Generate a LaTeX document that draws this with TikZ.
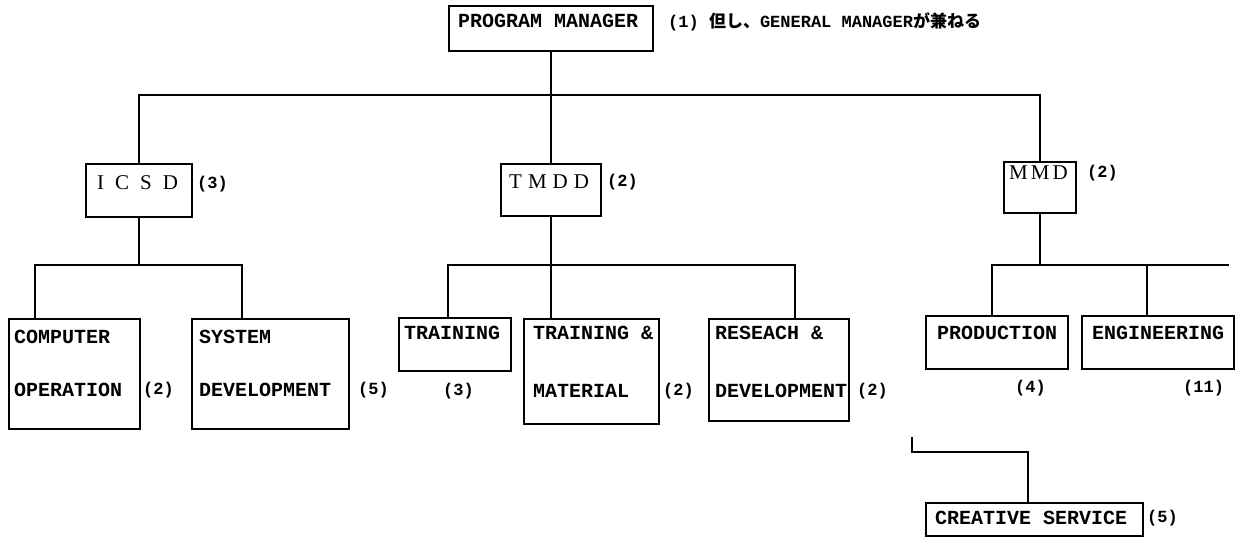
\documentclass[tikz,border=0pt]{standalone}
\usepackage{fontspec}
\newfontfamily\boxfont{Liberation Mono}
\newfontfamily\spacedfont{Liberation Serif}
\newfontfamily\jpfont{Noto Sans CJK JP}
\begin{document}
\begin{tikzpicture}[x=1pt,y=-1pt,
  box/.style={draw, line width=1.8pt, anchor=north west, inner sep=0pt},
  link/.style={line width=1.8pt},
  txt/.style={anchor=west, inner sep=0pt, font=\boxfont\bfseries\fontsize{20}{24}\selectfont},
  cnt/.style={anchor=west, inner sep=0pt, font=\boxfont\bfseries\fontsize{17}{20}\selectfont},
  spaced/.style={anchor=west, inner sep=0pt, font=\spacedfont\fontsize{21}{24}\selectfont},
  note/.style={anchor=west, inner sep=0pt, font=\boxfont\bfseries\fontsize{17}{20}\selectfont}]
\useasboundingbox (0,0) rectangle (1245,537);

% ---- boxes ----
\node[box, minimum width=204pt, minimum height=45pt] (pm) at (448,5) {};
\node[box, minimum width=106pt, minimum height=53pt] (icsd) at (85,163) {};
\node[box, minimum width=100pt, minimum height=52pt] (tmdd) at (500,163) {};
\node[box, minimum width=72pt,  minimum height=51pt] (mmd) at (1003,161) {};
\node[box, minimum width=131pt, minimum height=110pt] (comp) at (8,318) {};
\node[box, minimum width=157pt, minimum height=110pt] (sys) at (191,318) {};
\node[box, minimum width=112pt, minimum height=53pt] (trn) at (398,317) {};
\node[box, minimum width=135pt, minimum height=105pt] (tm) at (523,318) {};
\node[box, minimum width=140pt, minimum height=102pt] (rd) at (708,318) {};
\node[box, minimum width=142pt, minimum height=53pt] (prod) at (925,315) {};
\node[box, minimum width=152pt, minimum height=53pt] (eng) at (1081,315) {};
\node[box, minimum width=217pt, minimum height=33pt] (cs) at (925,502) {};

% ---- texts ----
\node[txt] (pmT) at (458,21) {PROGRAM MANAGER};
\node[note] (pmN) at (668,22) {(1) {\jpfont\fontsize{17}{20}\selectfont 但し、}GENERAL MANAGER{\jpfont\fontsize{17}{20}\selectfont が兼ねる}};

\node[spaced] (icsdT) at (97,183) {I\hspace{11pt}C\hspace{11pt}S\hspace{11pt}D};
\node[cnt] (icsdC) at (197,184) {(3)};
\node[spaced] (tmddT) at (509,182) {T\hspace{6pt}M\hspace{6pt}D\hspace{6pt}D};
\node[cnt] (tmddC) at (607,182) {(2)};
\node[spaced] (mmdT) at (1009,173) {M\hspace{3pt}M\hspace{3pt}D};
\node[cnt] (mmdC) at (1087,173) {(2)};

\node[txt] (compT1) at (14,337) {COMPUTER};
\node[txt] (compT2) at (14,390) {OPERATION};
\node[cnt] (compC) at (143,390) {(2)};
\node[txt] (sysT1) at (199,337) {SYSTEM};
\node[txt] (sysT2) at (199,390) {DEVELOPMENT};
\node[cnt] (sysC) at (358,390) {(5)};

\node[txt] (trnT) at (404,333) {TRAINING};
\node[cnt] (trnC) at (443,391) {(3)};
\node[txt] (tmT1) at (533,333) {TRAINING \&};
\node[txt] (tmT2) at (533,391) {MATERIAL};
\node[cnt] (tmC) at (663,391) {(2)};
\node[txt] (rdT1) at (715,333) {RESEACH \&};
\node[txt] (rdT2) at (715,391) {DEVELOPMENT};
\node[cnt] (rdC) at (857,391) {(2)};

\node[txt] (prodT) at (937,333) {PRODUCTION};
\node[cnt] (prodC) at (1015,388) {(4)};
\node[txt] (engT) at (1092,333) {ENGINEERING};
\node[cnt] (engC) at (1183,388) {(11)};

\node[txt] (csT) at (935,518) {CREATIVE SERVICE};
\node[cnt] (csC) at (1147,518) {(5)};

% ---- connection points ----
\coordinate (bus1) at (0,95);
\coordinate (bus2) at (0,265);
\coordinate (compN) at ([xshift=27pt]comp.north west);
\coordinate (sysN)  at ([xshift=51pt]sys.north west);
\coordinate (trnN)  at ([xshift=50pt]trn.north west);
\coordinate (tmN)   at ([xshift=27pt]tm.north west);
\coordinate (rdN)   at ([xshift=87pt]rd.north west);
\coordinate (prodN) at ([xshift=67pt]prod.north west);
\coordinate (engN)  at ([xshift=66pt]eng.north west);
\coordinate (busEnd) at (1229,265);
\coordinate (csFree) at (912,437);
\coordinate (csBus) at (0,452);
\coordinate (csN)   at ([xshift=103pt]cs.north west);

% ---- connectors ----
\draw[link] (pm.south) -- (pm.south |- bus1);
\draw[link] (icsd.north) -- (icsd.north |- bus1) -- (mmd.north |- bus1) -- (mmd.north);
\draw[link] (tmdd.north) -- (tmdd.north |- bus1);

\draw[link] (icsd.south) -- (icsd.south |- bus2);
\draw[link] (compN) -- (compN |- bus2) -- (sysN |- bus2) -- (sysN);

\draw[link] (tmdd.south) -- (tmdd.south |- tmN);
\draw[link] (trnN) -- (trnN |- bus2) -- (rdN |- bus2) -- (rdN);

\draw[link] (mmd.south) -- (mmd.south |- bus2);
\draw[link] (prodN) -- (prodN |- bus2) -- (busEnd);
\draw[link] (engN) -- (engN |- bus2);

\draw[link] (csFree) -- (csFree |- csBus) -- (csN |- csBus) -- (csN);
\end{tikzpicture}
\end{document}
